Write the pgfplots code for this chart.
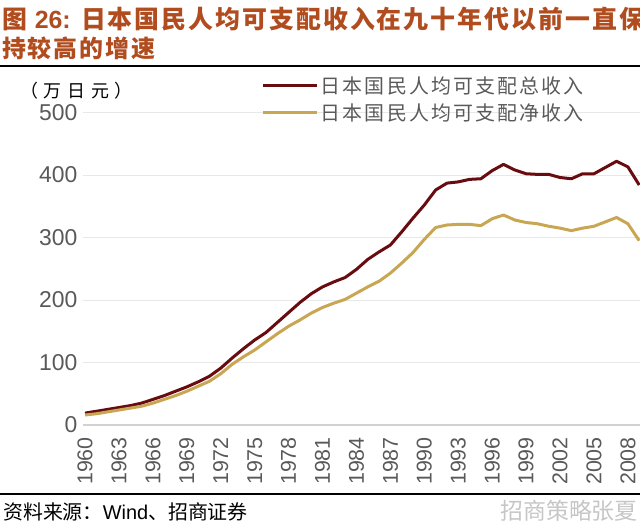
\documentclass[border=0pt]{standalone}
\usepackage{fontspec}
\setmainfont{Liberation Sans}
\newfontfamily\cjk{Noto Sans CJK SC}
\newfontfamily\cjkt{Noto Sans CJK SC}[LetterSpace=8]
\newfontfamily\cjkl{Noto Sans CJK SC}[LetterSpace=11]
\newfontfamily\cjku{Noto Sans CJK SC}[LetterSpace=32]
\usepackage{pgfplots}
\pgfplotsset{compat=1.18}
\definecolor{titlec}{RGB}{176,76,30}
\definecolor{gross}{RGB}{104,12,16}
\definecolor{net}{RGB}{200,166,82}
\definecolor{tick}{RGB}{89,89,89}
\definecolor{gridc}{RGB}{232,232,232}
\pgfplotstableread{
year gross net
1960 19 16
1961 22 18
1962 25 21
1963 28 24
1964 31 27
1965 35 30
1966 41 35
1967 47 41
1968 54 47
1969 61 54
1970 69 62
1971 78 70
1972 91 82
1973 107 97
1974 122 109
1975 136 120
1976 148 133
1977 164 146
1978 180 158
1979 196 168
1980 210 179
1981 221 188
1982 229 195
1983 236 201
1984 249 211
1985 265 221
1986 277 230
1987 288 243
1988 309 259
1989 331 276
1990 352 297
1991 376 316
1992 387 320
1993 389 321
1994 393 321
1995 394 319
1996 407 330
1997 417 336
1998 408 328
1999 402 324
2000 401 322
2001 401 318
2002 396 315
2003 394 311
2004 402 315
2005 402 318
2006 412 325
2007 422 332
2008 413 322
2009 384 295
}\datatable
\begin{document}
\begin{tikzpicture}
\useasboundingbox (0,0) rectangle (640bp,-529bp);
\begin{axis}[
  at={(83bp,-425bp)}, anchor=south west,
  scale only axis, width=557bp, height=312.5bp,
  xmin=1959.82, xmax=2009.07, ymin=0, ymax=500,
  axis line style={draw=none},
  major tick length=0pt,
  ytick={0,100,...,500},
  xtick={1960,1963,...,2008},
  ymajorgrids, grid style={draw=gridc, line width=0.9bp},
  /pgf/number format/assume math mode=true,
  /pgf/number format/1000 sep={},
  yticklabel style={font=\fontsize{23}{26}\selectfont, text=tick, xshift=-2bp},
  xticklabel style={font=\fontsize{21.5}{24}\selectfont, text=tick, rotate=90, anchor=east, xshift=-11bp, inner sep=1bp},
  clip=false,
  legend style={at={(0.3205,1.122)}, anchor=north west, draw=none, fill=none,
    font=\cjkl\fontsize{20}{22}\selectfont, text=tick, row sep=5bp, inner sep=0pt},
  legend cell align=left,
  legend image code/.code={\draw[#1, line width=3bp] (0bp,0bp) -- (48bp,0bp); \path (0bp,0bp) -- (54bp,0bp);},
]
\draw[draw=gray!35, line width=1.2bp] (axis cs:1959.82,0) -- (axis cs:2009.07,0);
\addplot[gross, line width=3bp, line join=round] table[x=year, y=gross] {\datatable};
\addlegendentry{日本国民人均可支配总收入}
\addplot[net, line width=3bp, line join=round] table[x=year, y=net] {\datatable};
\addlegendentry{日本国民人均可支配净收入}
\end{axis}
\node[anchor=base west, inner sep=0pt, text=titlec] at (2bp,-28bp) {\cjkt\bfseries\fontsize{25}{27}\selectfont 图 {\rmfamily\bfseries 26:} 日本国民人均可支配收入在九十年代以前一直保};
\node[anchor=base west, inner sep=0pt, text=titlec] at (2bp,-57bp) {\cjkt\bfseries\fontsize{24}{26}\selectfont 持较高的增速};
\draw[line width=2bp] (0,-66bp) -- (640bp,-66bp);
\draw[line width=1.5bp] (0,-494bp) -- (640bp,-494bp);
\node[anchor=base west, inner sep=0pt] at (20bp,-97bp) {\cjku\fontsize{18}{20}\selectfont （万日元）};
\node[anchor=base west, inner sep=0pt] at (3bp,-519bp) {\cjk\fontsize{20}{22}\selectfont 资料来源：{\rmfamily Wind}、招商证券};
\node[anchor=base east, inner sep=0pt, text=gray!45] at (638bp,-519bp) {\cjk\fontsize{23}{25}\selectfont 招商策略张夏};
\end{tikzpicture}
\end{document}
